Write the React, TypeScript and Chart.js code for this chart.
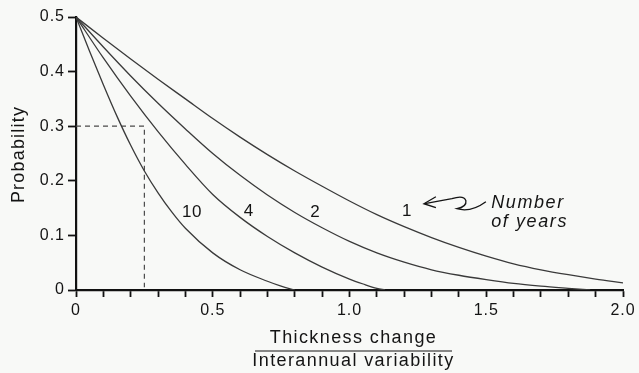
import React, { useEffect, useRef } from "react";
import { Chart, registerables } from "chart.js";
Chart.register(...registerables);

// Number of years = 1
const n1X = [0, 0.1, 0.2, 0.3, 0.4, 0.5, 0.6, 0.7, 0.8, 0.9, 1.0, 1.1, 1.2, 1.3, 1.4, 1.5, 1.6, 1.7, 1.8, 1.9, 2.0];
const n1P = [0.5, 0.461, 0.423, 0.386, 0.35, 0.314, 0.28, 0.248, 0.218, 0.19, 0.163, 0.138, 0.116, 0.096, 0.078, 0.062, 0.048, 0.037, 0.028, 0.02, 0.013];
// Number of years = 2
const n2X = [0, 0.1, 0.2, 0.3, 0.4, 0.5, 0.6, 0.7, 0.8, 0.9, 1.0, 1.1, 1.2, 1.3, 1.4, 1.5, 1.6, 1.7, 1.8, 1.88];
const n2P = [0.5, 0.445, 0.392, 0.342, 0.295, 0.25, 0.21, 0.174, 0.142, 0.114, 0.089, 0.068, 0.051, 0.037, 0.027, 0.019, 0.012, 0.007, 0.003, 0];
// Number of years = 4
const n4X = [0, 0.1, 0.2, 0.3, 0.4, 0.5, 0.6, 0.7, 0.8, 0.9, 1.0, 1.05, 1.1, 1.13];
const n4P = [0.5, 0.425, 0.355, 0.29, 0.23, 0.175, 0.133, 0.098, 0.068, 0.042, 0.02, 0.011, 0.003, 0];
// Number of years = 10
const n10X = [0, 0.05, 0.1, 0.15, 0.2, 0.25, 0.3, 0.35, 0.4, 0.5, 0.6, 0.7, 0.75, 0.8];
const n10P = [0.5, 0.437, 0.376, 0.318, 0.265, 0.218, 0.178, 0.143, 0.113, 0.068, 0.037, 0.016, 0.007, 0];

// dashed guide
const dashX = [0, 0.25, 0.25];
const dashP = [0.3, 0.3, 0.005];

// ticks
const xTickValues = [0, 0.1, 0.2, 0.3, 0.4, 0.5, 0.6, 0.7, 0.8, 0.9, 1.0, 1.1, 1.2, 1.3, 1.4, 1.5, 1.6, 1.7, 1.8, 1.9, 2.0];
const xTickText = ["0", "", "", "", "", "0.5", "", "", "", "", "1.0", "", "", "", "", "1.5", "", "", "", "", "2.0"];
const yTickValues = [0, 0.1, 0.2, 0.3, 0.4, 0.5];
const yTickText = ["0", "0.1", "0.2", "0.3", "0.4", "0.5"];

const curveLabels = ["10", "4", "2", "1"];
const yTitle = "Probability";
const xTitleTop = "Thickness change";
const xTitleBottom = "Interannual variability";
const noteLines = ["Number", "of years"];

const FONT = "'Liberation Sans', Arial, Helvetica, sans-serif";
const TEXT = "#141414";
const LINE = "#3a3a3a";

const pts = (xs: number[], ys: number[]) => xs.map((x, i) => ({ x, y: ys[i] }));

export default function App() {
  const ref = useRef<HTMLCanvasElement | null>(null);

  useEffect(() => {
    if (!ref.current) return;
    const curve = (xs: number[], ys: number[]) => ({
      data: pts(xs, ys),
      showLine: true,
      borderColor: LINE,
      borderWidth: 1.3,
      pointRadius: 0,
      fill: false,
      cubicInterpolationMode: "monotone" as const,
    });

    const decor = {
      id: "decor",
      beforeDraw(chart: any) {
        const ctx = chart.ctx;
        ctx.save();
        ctx.fillStyle = "#f8f9f7";
        ctx.fillRect(0, 0, chart.width, chart.height);
        ctx.restore();
        (ctx as any).letterSpacing = "1px";
      },
      afterDraw(chart: any) {
        const ctx = chart.ctx;
        const xs = chart.scales.x;
        const ys = chart.scales.y;
        ctx.save();
        ctx.fillStyle = TEXT;
        ctx.strokeStyle = TEXT;

        // curve labels
        ctx.font = `17px ${FONT}`;
        (ctx as any).letterSpacing = "0.5px";
        ctx.textAlign = "center";
        ctx.textBaseline = "middle";
        const lx = [0.424, 0.632, 0.875, 1.21];
        const ly = [0.143, 0.144, 0.143, 0.144];
        curveLabels.forEach((t, i) => {
          ctx.fillText(t, xs.getPixelForValue(lx[i]), ys.getPixelForValue(ly[i]));
        });

        // Number of years note
        ctx.font = `italic 18px ${FONT}`;
        (ctx as any).letterSpacing = "1.6px";
        ctx.textAlign = "left";
        ctx.textBaseline = "alphabetic";
        const nx = xs.getPixelForValue(1.518);
        ctx.fillText(noteLines[0], nx, ys.getPixelForValue(0.1505));
        ctx.fillText(noteLines[1], nx, ys.getPixelForValue(0.1155));

        // squiggly arrow
        const tx = xs.getPixelForValue(1.272);
        const ty = ys.getPixelForValue(0.158);
        ctx.lineWidth = 1.3;
        ctx.beginPath();
        ctx.moveTo(tx + 1, ty);
        ctx.lineTo(tx + 28, ty - 5);
        ctx.quadraticCurveTo(tx + 40, ty - 9, tx + 42, ty - 3);
        ctx.quadraticCurveTo(tx + 43, ty + 3, tx + 33, ty + 5);
        ctx.quadraticCurveTo(tx + 47, ty + 9, tx + 62, ty - 2);
        ctx.stroke();
        ctx.beginPath();
        ctx.moveTo(tx + 12, ty - 7);
        ctx.lineTo(tx, ty);
        ctx.lineTo(tx + 12, ty + 4);
        ctx.stroke();

        // y title
        ctx.font = `18px ${FONT}`;
        (ctx as any).letterSpacing = "1.2px";
        ctx.save();
        ctx.translate(24, (ys.top + ys.bottom) / 2 + 1);
        ctx.rotate(-Math.PI / 2);
        ctx.textAlign = "center";
        ctx.textBaseline = "alphabetic";
        ctx.fillText(yTitle, 0, 0);
        ctx.restore();

        // x title as fraction
        const cx = xs.getPixelForValue(1.0) + 4;
        ctx.textAlign = "center";
        ctx.textBaseline = "alphabetic";
        (ctx as any).letterSpacing = "1.4px";
        ctx.fillText(xTitleTop, cx, 343);
        ctx.fillText(xTitleBottom, cx, 366);
        ctx.lineWidth = 1.2;
        ctx.beginPath();
        ctx.moveTo(255, 351);
        ctx.lineTo(452, 351);
        ctx.stroke();
        ctx.restore();
        (ctx as any).letterSpacing = "0px";
      },
    };

    const tickFont = { family: FONT, size: 16 };
    const chart = new Chart(ref.current, {
      type: "scatter",
      data: {
        datasets: [
          curve(n1X, n1P),
          curve(n2X, n2P),
          curve(n4X, n4P),
          curve(n10X, n10P),
          {
            data: pts(dashX, dashP),
            showLine: true,
            borderColor: "#4a4a4a",
            borderWidth: 1.2,
            borderDash: [5, 4],
            pointRadius: 0,
            fill: false,
            tension: 0,
          },
        ],
      },
      options: {
        animation: false,
        responsive: false,
        events: [],
        layout: { padding: { top: 17, right: 16, left: 0, bottom: 0 } },
        plugins: { legend: { display: false }, tooltip: { enabled: false } },
        scales: {
          x: {
            type: "linear",
            min: 0,
            max: 2,
            afterFit: (s: any) => {
              s.height = 83;
            },
            afterBuildTicks: (s: any) => {
              s.ticks = xTickValues.map((v) => ({ value: v }));
            },
            ticks: {
              autoSkip: false,
              maxRotation: 0,
              padding: 4,
              font: tickFont,
              color: TEXT,
              callback: (_v: any, i: number) => xTickText[i],
            },
            grid: { drawOnChartArea: false, drawTicks: true, tickLength: 7, tickColor: "#111", tickWidth: 1.8 },
            border: { display: true, color: "#111", width: 2.2 },
          },
          y: {
            type: "linear",
            min: 0,
            max: 0.5,
            afterFit: (s: any) => {
              s.width = 76;
            },
            afterBuildTicks: (s: any) => {
              s.ticks = yTickValues.map((v) => ({ value: v }));
            },
            ticks: {
              autoSkip: false,
              padding: 3,
              font: tickFont,
              color: TEXT,
              callback: (_v: any, i: number) => yTickText[i],
            },
            grid: { drawOnChartArea: false, drawTicks: true, tickLength: 8, tickColor: "#111", tickWidth: 1.8 },
            border: { display: true, color: "#111", width: 2.2 },
          },
        },
      },
      plugins: [decor],
    } as any);
    return () => chart.destroy();
  }, []);

  return (
    <div style={{ position: "fixed", left: 0, top: 0, width: 639, height: 373, background: "#f8f9f7" }}>
      <canvas ref={ref} width={639} height={373} style={{ display: "block" }} />
    </div>
  );
}
